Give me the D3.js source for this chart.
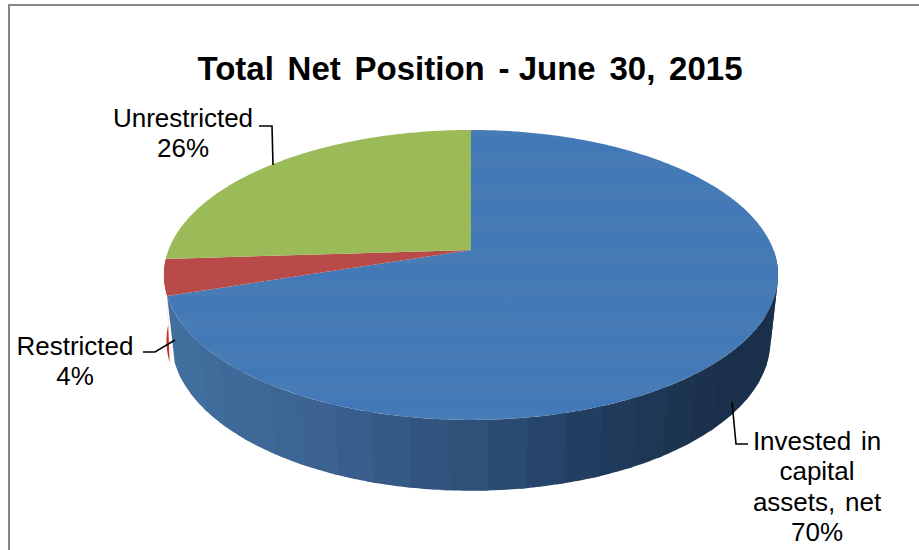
<!DOCTYPE html>
<html>
<head>
<meta charset="utf-8">
<script src="https://cdn.jsdelivr.net/npm/d3@7"></script>
<style>
  body { margin: 0; background: #fff; }
  svg { display: block; }
  text { font-family: "Liberation Sans", Arial, sans-serif; fill: #000; }
</style>
</head>
<body>
<svg width="919" height="550"></svg>
<script>
const categories = ['Invested in capital assets, net', 'Restricted', 'Unrestricted'];
const values = [70, 4, 26];
const colors = ['#4479b6', '#b84b49', '#9bbb59'];

const svg = d3.select('svg');

// frame, open at the bottom and right of the crop
svg.append('path')
    .attr('d', 'M9,550V5H919')
    .attr('fill', 'none')
    .attr('stroke', '#868686')
    .attr('stroke-width', 2);

const pie = d3.pie().sort(null).value(d => d);
const arcs = pie(values);

// tilted disc, far edge squeezed a bit
const cx = 471, k = 0.172;
const project = (angle, yCenter, a, b) => {
    const u = Math.sin(angle), v = Math.cos(angle), w = 1 + k * v;
    return [cx + b * u / w, yCenter - a * v / w];
};
const topRim = angle => project(angle, 250, 140.7, 302.5);
const bottomRim = angle => project(angle, 315, 145.5, 295);
// red wall sits a touch wider so its sliver stays visible behind the blue
const redBottomRim = angle => project(angle, 315, 145.5, 300);

const sampleAngles = (start, end, step) => {
    const n = Math.max(1, Math.ceil((end - start) / step));
    return d3.range(n + 1).map(i => start + (end - start) * i / n);
};
const line = d3.line();

// side wall between two angles, top rim then bottom rim back
const wallPath = (start, end, lowerRim) => {
    const edge = sampleAngles(start, end, 0.01);
    return line(edge.map(topRim).concat(edge.slice().reverse().map(lowerRim))) + 'Z';
};

// side wall of the restricted slice, only a sliver shows
svg.append('path')
    .attr('d', wallPath(arcs[1].startAngle, arcs[1].endAngle, redBottomRim))
    .attr('fill', '#c8341f');

// side wall of the big slice, cut in bands getting darker to the right
const wallColor = d3.scaleLinear()
    .domain([170, 340, 470, 600, 720, 780])
    .range(['#41709f', '#3a608f', '#2e5079', '#203c5e', '#1a304a', '#1a304a']);
const bandEdges = sampleAngles(Math.PI / 2, arcs[0].endAngle, 0.11);
svg.append('g').selectAll('path')
    .data(d3.pairs(bandEdges))
    .join('path')
    // bands overlap a little so no seam shows between them
    .attr('d', d => wallPath(d[0], d[1] === arcs[0].endAngle ? d[1] : d[1] + 0.02, bottomRim))
    .attr('fill', d => wallColor(topRim((d[0] + d[1]) / 2)[0]));

// faint horizontal bands on the top of the blue slice
const defs = svg.append('defs');
const bands = defs.append('linearGradient')
    .attr('id', 'blue-bands')
    .attr('x1', 0).attr('x2', 0).attr('y1', 0).attr('y2', 1);
d3.range(19).forEach(i => {
    bands.append('stop')
        .attr('offset', i / 18)
        .attr('stop-color', i % 2 ? '#4177b8' : '#487db4');
});

// top faces
svg.append('g').selectAll('path')
    .data(arcs)
    .join('path')
    .attr('d', d => {
        const rim = sampleAngles(d.startAngle, d.endAngle, 0.01).map(topRim);
        return line([[cx, 250]].concat(rim)) + 'Z';
    })
    .attr('fill', (d, i) => i === 0 ? 'url(#blue-bands)' : colors[i]);

// leader lines
const leaders = [
    'M732,402L736,444H748',
    'M143,352H155L175,340',
    'M259,126H272L273,165'
];
svg.append('g').selectAll('path')
    .data(leaders)
    .join('path')
    .attr('d', d => d)
    .attr('fill', 'none')
    .attr('stroke', '#000')
    .attr('stroke-width', 1.6);

// title, the dash sits closer to June than to Position
const titleParts = [
    {text: 'Total Net Position ', gap: 4.6},
    {text: '- ', gap: 0},
    {text: 'June 30, 2015', gap: 4.6}
];
svg.append('text')
    .attr('x', 470)
    .attr('y', 80)
    .attr('text-anchor', 'middle')
    .attr('font-size', 33)
    .attr('font-weight', 'bold')
    .selectAll('tspan')
    .data(titleParts)
    .join('tspan')
    .attr('word-spacing', d => d.gap)
    .text(d => d.text);

// data labels
const labels = [
    {x: 183, y: 127, gap: 0, lines: ['Unrestricted', '26%']},
    {x: 75, y: 355, gap: 0, lines: ['Restricted', '4%']},
    {x: 817, y: 450, gap: 2.5, lines: ['Invested in', 'capital', 'assets, net', '70%']}
];
svg.append('g').selectAll('text')
    .data(labels)
    .join('text')
    .attr('text-anchor', 'middle')
    .attr('font-size', 26)
    .attr('word-spacing', d => d.gap)
    .each(function(d) {
        d3.select(this).selectAll('tspan')
            .data(d.lines)
            .join('tspan')
            .attr('x', d.x)
            .attr('y', (l, i) => d.y + i * 30.3)
            .text(l => l);
    });
</script>
</body>
</html>
